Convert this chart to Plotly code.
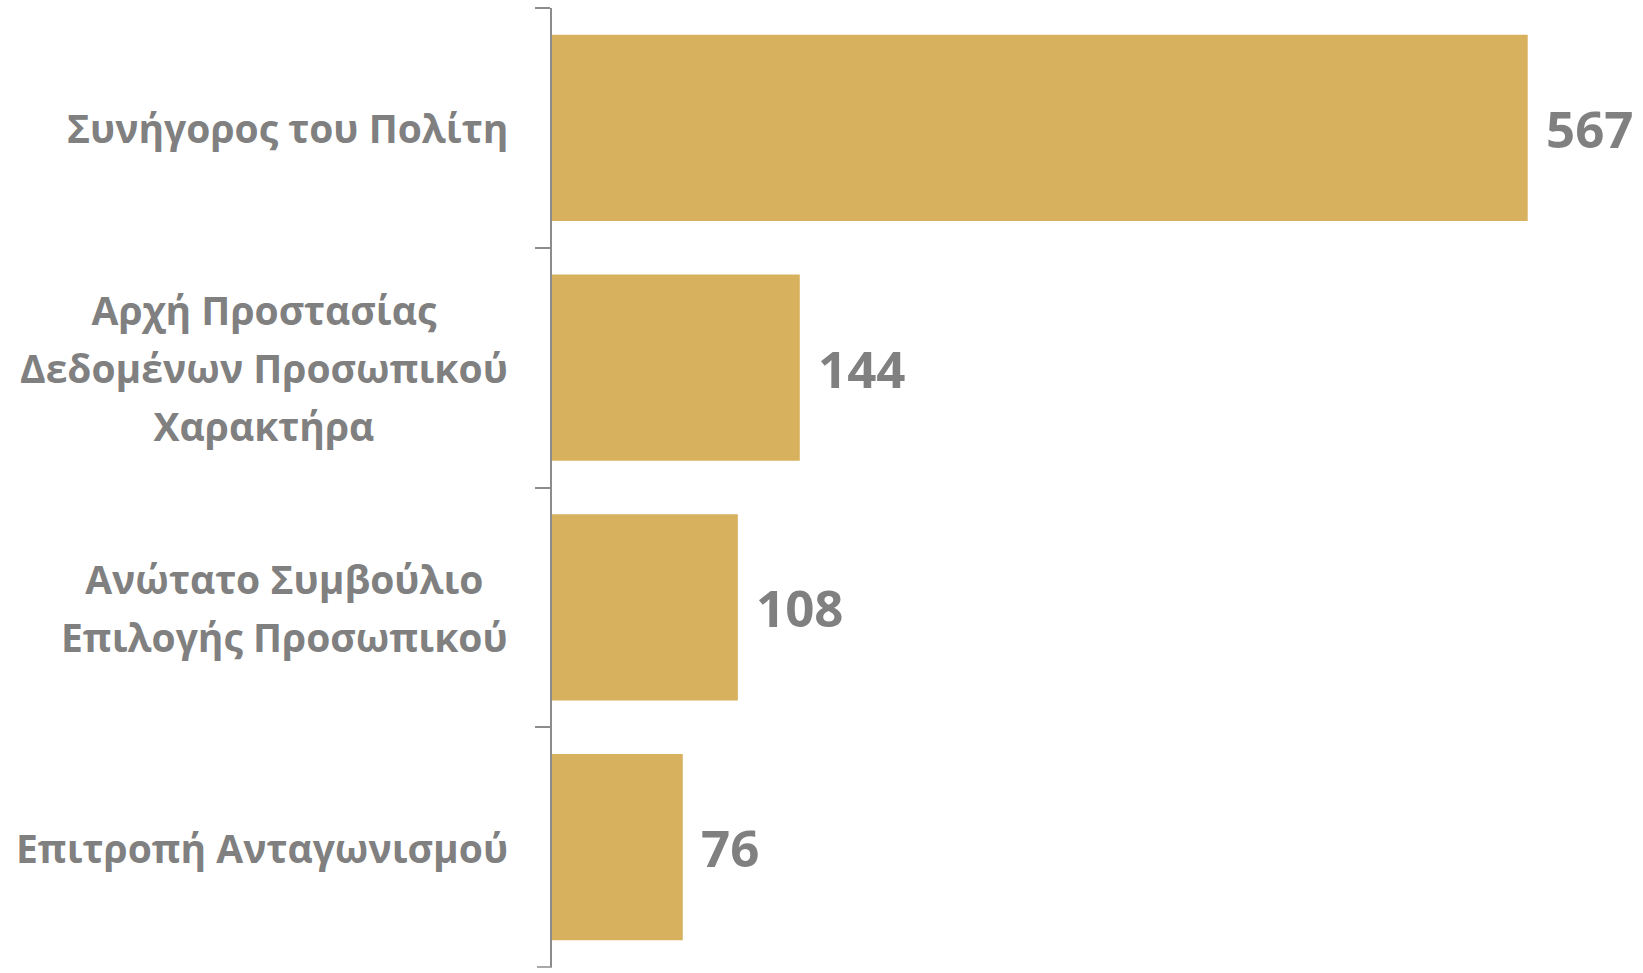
import plotly.graph_objects as go

categories = ["Συνήγορος του Πολίτη",
              "Αρχή Προστασίας Δεδομένων Προσωπικού Χαρακτήρα",
              "Ανώτατο Συμβούλιο Επιλογής Προσωπικού",
              "Επιτροπή Ανταγωνισμού"]
label_lines = [["Συνήγορος του Πολίτη"],
               ["Αρχή Προστασίας", "Δεδομένων Προσωπικού", "Χαρακτήρα"],
               ["Ανώτατο Συμβούλιο", "Επιλογής Προσωπικού"],
               ["Επιτροπή Ανταγωνισμού"]]
values = [567, 144, 108, 76]

BAR = "#D8B15E"
GREY = "#808080"
FONT = "Open Sans"
LABEL_PX = 39
LINE_GAP = 58

fig = go.Figure(go.Bar(
    x=values, y=categories, orientation="h",
    marker=dict(color=BAR, line=dict(width=0)),
    hoverinfo="skip",
))

annotations = []
for cat, lines in zip(categories, label_lines):
    txt = "<br>".join(f'<span style="font-size:{LABEL_PX}px">{l}</span>' for l in lines)
    annotations.append(dict(
        x=0, y=cat, xref="x", yref="y", xanchor="right", yanchor="middle",
        xshift=-42, text=txt, showarrow=False, align="center",
        font=dict(family=FONT, size=LINE_GAP / 1.3, color=GREY, weight="bold"),
    ))
for cat, v in zip(categories, values):
    annotations.append(dict(
        x=v, y=cat, xref="x", yref="y", xanchor="left", yanchor="middle",
        xshift=16, text=str(v), showarrow=False,
        font=dict(family=FONT, size=51, color=GREY, weight="bold"),
    ))

# closing tick at the bottom end of the category axis
fig.add_shape(type="line", xref="paper", yref="paper", x0=0, x1=0, y0=0, y1=0,
              xsizemode="pixel", xanchor=0, line=dict(color="#8c8c8c", width=1.5))
fig.layout.shapes[0].update(x0=-15, x1=0)

fig.update_layout(
    width=1643, height=973,
    margin=dict(l=552, r=0, t=8, b=6),
    paper_bgcolor="white", plot_bgcolor="white",
    bargap=0.224,
    showlegend=False,
    annotations=annotations,
    xaxis=dict(range=[0, 634], visible=False, showgrid=False, zeroline=False),
    yaxis=dict(categoryorder="array", categoryarray=categories, autorange="reversed",
               showticklabels=False, showline=True, linecolor="#8c8c8c", linewidth=1.5,
               ticks="outside", ticklen=15, tickwidth=1.5, tickcolor="#8c8c8c",
               tickson="boundaries", showgrid=False, zeroline=False),
)

fig.write_html("out.html", config={"displayModeBar": False},
               post_script="document.body.style.margin='0';document.body.style.overflow='hidden';")
